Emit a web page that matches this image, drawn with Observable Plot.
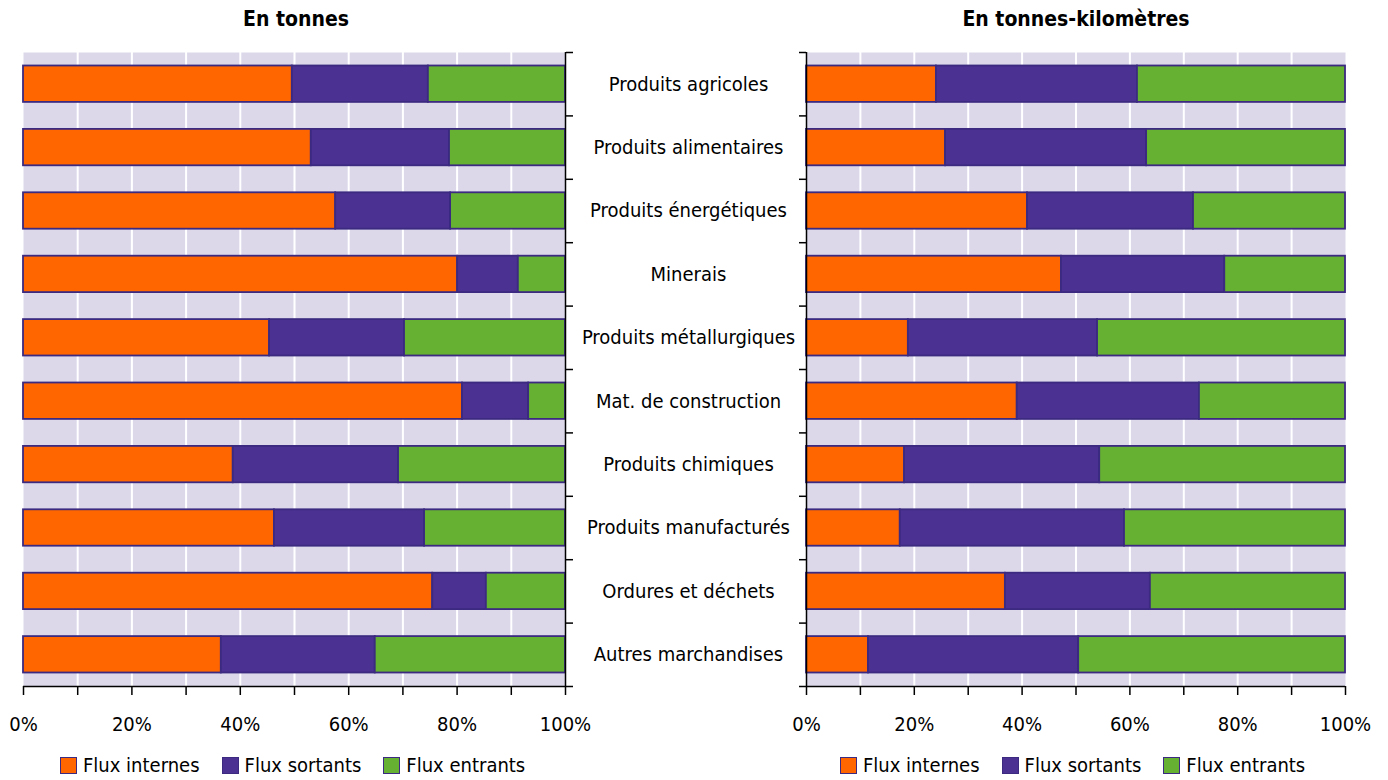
<!DOCTYPE html>
<html><head><meta charset="utf-8">
<script src="https://cdn.jsdelivr.net/npm/d3@7"></script>
<script src="https://cdn.jsdelivr.net/npm/@observablehq/plot@0.6"></script>
<style>
body{margin:0;background:#fff;font-family:"DejaVu Sans Condensed","Liberation Sans Narrow",sans-serif;font-stretch:condensed;}
#wrap{position:relative;width:1388px;height:780px;}
.t{position:absolute;top:7px;font-weight:bold;font-size:21px;text-align:center;width:300px}
.pl{position:absolute;top:40px}
.lg{position:absolute;top:753px;display:flex;gap:22px;font-size:20px;align-items:center}
.lg span{display:inline-flex;align-items:center;gap:6px}
.lg i{display:inline-block;width:17px;height:17px;border:1.5px solid #3b2a80;box-sizing:border-box}
</style></head><body><div id="wrap"></div>
<script>
const categories=["Produits agricoles","Produits alimentaires","Produits énergétiques","Minerais","Produits métallurgiques","Mat. de construction","Produits chimiques","Produits manufacturés","Ordures et déchets","Autres marchandises"];
const series=["Flux internes","Flux sortants","Flux entrants"];
const colors=["#ff6600","#4b3191","#66b032"];
const tonnesInternes=[49.6,53.1,57.6,80.1,45.4,81.0,38.7,46.3,75.5,36.5];
const tonnesSortants=[25.1,25.5,21.2,11.2,24.9,12.2,30.5,27.7,9.9,28.4];
const tkmInternes=[24.1,25.8,41.0,47.3,18.9,39.1,18.2,17.4,36.9,11.5];
const tkmSortants=[37.3,37.3,30.8,30.3,35.1,33.8,36.2,41.6,26.9,39.0];
const xTicks=[0,20,40,60,80,100];

function rows(int,sor){
  const out=[];
  categories.forEach((c,i)=>{
    const v=[int[i],sor[i],100-int[i]-sor[i]];
    let s=0;
    v.forEach((val,k)=>{out.push({cat:c,i,serie:series[k],x1:s,x2:s+val});s+=val;});
  });
  return out;
}
const font='"DejaVu Sans Condensed","Liberation Sans Narrow",sans-serif';
function panel(data,side){
  const left=side==="left";
  const W=left?810:(1388-786);
  const ml=left?23:20, mr=left?245:43;
  const marks=[
    Plot.frame({fill:"#dcd8ea",stroke:null}),
    Plot.ruleX(d3.range(10,100,10),{stroke:"#fff",strokeWidth:2}),
    Plot.rectX(data,{x1:"x1",x2:"x2",y1:d=>d.i,y2:d=>d.i+1,insetTop:13.5,insetBottom:13.5,fill:d=>colors[series.indexOf(d.serie)],stroke:"#3b2a80",strokeWidth:1.8}),
    Plot.ruleY([10],{strokeWidth:1.5}),
    Plot.ruleX([left?100:0],{strokeWidth:1.5}),
    Plot.axisX({ticks:d3.range(0,101,10),tickSize:9,tickFormat:()=>"",stroke:"#000",strokeWidth:1.5}),
    Plot.axisX({ticks:xTicks,tickSize:0,tickPadding:30,tickFormat:d=>d+"%",fontSize:20,fill:"#000"}),
    Plot.axisY({anchor:left?"right":"left",ticks:d3.range(0,11),tickSize:7,tickFormat:()=>"",strokeWidth:1.5})
  ];
  if(left) marks.push(Plot.text(categories,{y:(d,i)=>i+0.5,frameAnchor:"right",dx:123,textAnchor:"middle",text:d=>d,fontSize:20,fill:"#000"}));
  return Plot.plot({width:W,height:700,marginLeft:ml,marginRight:mr,marginTop:12,marginBottom:54,
    style:{fontFamily:font,fontStretch:"condensed",background:"transparent",overflow:"visible"},
    x:{domain:[0,100]},y:{domain:[0,10],reverse:true},marks});
}
const wrap=document.getElementById("wrap");
const a=panel(rows(tonnesInternes,tonnesSortants),"left");a.classList.add("pl");a.style.left="0px";wrap.appendChild(a);
const b=panel(rows(tkmInternes,tkmSortants),"right");b.classList.add("pl");b.style.left="786px";wrap.appendChild(b);
[["En tonnes",146],["En tonnes-kilomètres",926]].forEach(([t,x])=>{const d=document.createElement("div");d.className="t";d.textContent=t;d.style.left=x+"px";wrap.appendChild(d);});
[60,840].forEach(x=>{const d=document.createElement("div");d.className="lg";d.style.left=x+"px";
 d.innerHTML=series.map((s,k)=>`<span><i style="background:${colors[k]}"></i>${s}</span>`).join("");wrap.appendChild(d);});
</script></body></html>
